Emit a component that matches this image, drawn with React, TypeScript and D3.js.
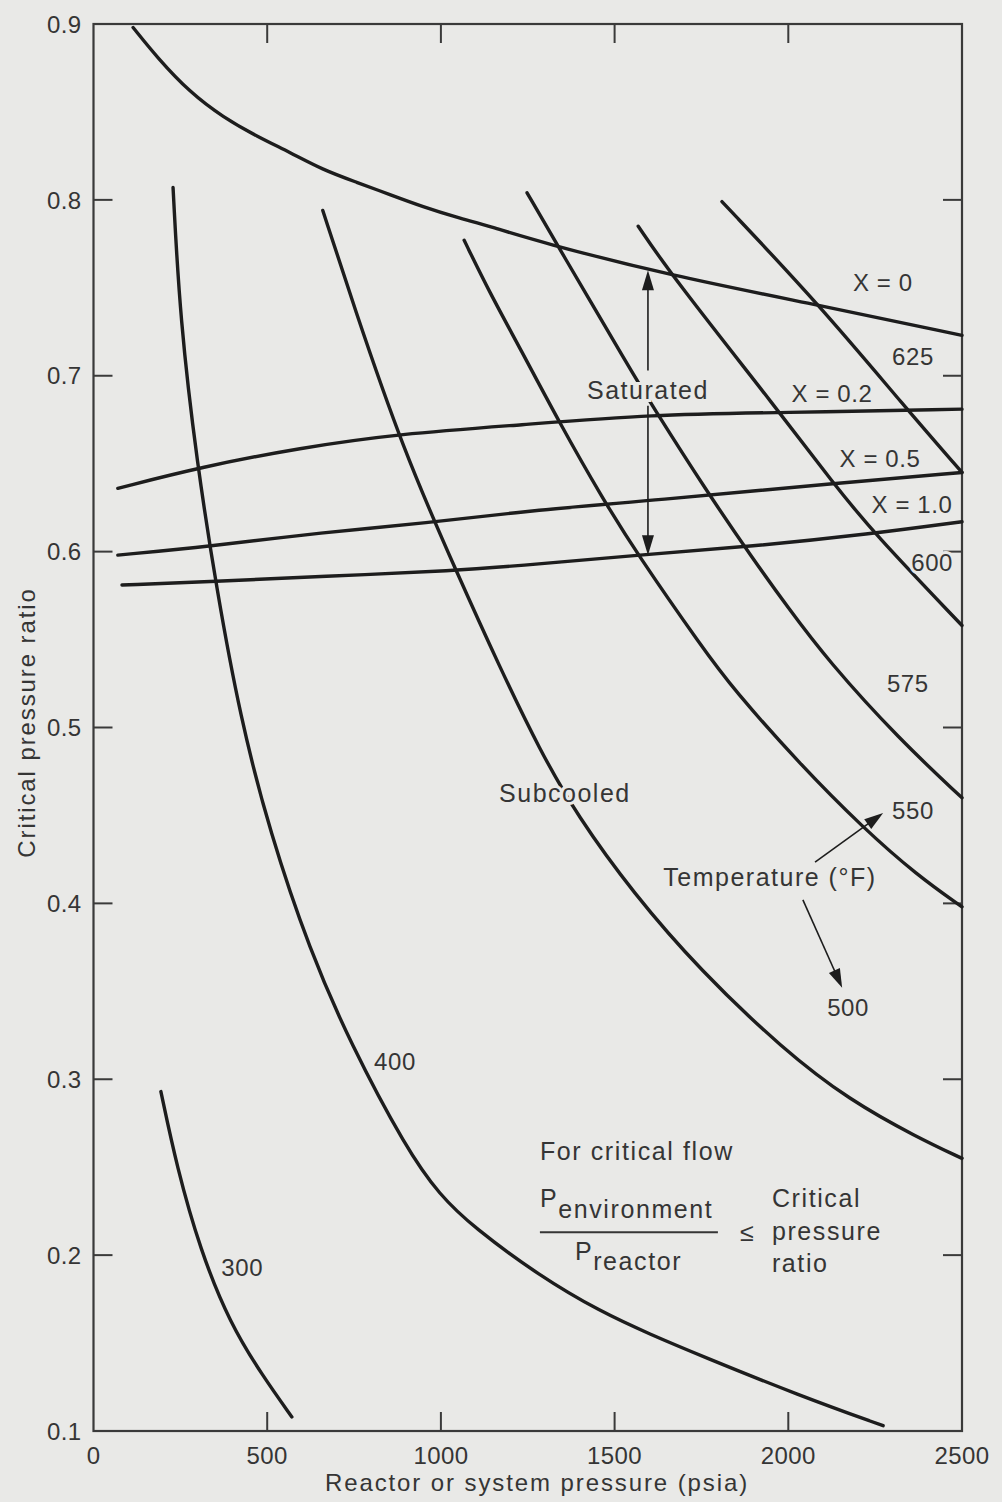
import React from "react";
import * as d3 from "d3";

// Axis ticks
const pressureTicks = [0, 500, 1000, 1500, 2000, 2500];
const ratioTicks = [0.1, 0.2, 0.3, 0.4, 0.5, 0.6, 0.7, 0.8, 0.9];

// Saturated lines of constant quality X: [pressure psia, critical pressure ratio]
const qualityX0: [number, number][] = [
  [114, 0.898], [183, 0.881], [278, 0.861], [373, 0.847], [471, 0.836], [566, 0.827],
  [661, 0.817], [758, 0.81], [853, 0.803], [949, 0.796], [1046, 0.79], [1141, 0.785],
  [1285, 0.776], [1659, 0.757], [2091, 0.74], [2500, 0.723],
];
const qualityX02: [number, number][] = [
  [70, 0.636], [307, 0.648], [594, 0.659], [882, 0.667], [1227, 0.672], [1610, 0.678],
  [1976, 0.679], [2500, 0.681],
];
const qualityX05: [number, number][] = [
  [70, 0.598], [335, 0.603], [661, 0.611], [949, 0.616], [1285, 0.624], [1610, 0.629],
  [2140, 0.639], [2500, 0.645],
];
const qualityX10: [number, number][] = [
  [82, 0.581], [344, 0.583], [661, 0.586], [1035, 0.589], [1285, 0.593], [1564, 0.598],
  [1898, 0.603], [2235, 0.61], [2500, 0.617],
];

// Subcooled lines of constant temperature (°F)
const temp300: [number, number][] = [
  [194, 0.293], [240, 0.25], [307, 0.203], [393, 0.161], [488, 0.131], [571, 0.108],
];
const temp400: [number, number][] = [
  [229, 0.807], [249, 0.732], [298, 0.65], [355, 0.578], [422, 0.506], [508, 0.44],
  [623, 0.373], [738, 0.321], [902, 0.26], [997, 0.234], [1093, 0.216], [1285, 0.188],
  [1458, 0.168], [1602, 0.155], [1746, 0.143], [2034, 0.12], [2273, 0.103],
];
const temp500: [number, number][] = [
  [660, 0.794], [747, 0.741], [891, 0.658], [1046, 0.588], [1170, 0.534], [1285, 0.487],
  [1392, 0.45], [1553, 0.406], [1746, 0.362], [1985, 0.317], [2177, 0.288], [2371, 0.267],
  [2500, 0.255],
];
const temp550: [number, number][] = [
  [1067, 0.777], [1141, 0.747], [1227, 0.716], [1342, 0.673], [1466, 0.63], [1564, 0.599],
  [1754, 0.545], [1841, 0.522], [2034, 0.479], [2215, 0.443], [2371, 0.416], [2500, 0.398],
];
const temp575: [number, number][] = [
  [1248, 0.804], [1342, 0.772], [1550, 0.702], [1602, 0.685], [1766, 0.634], [1898, 0.596],
  [1996, 0.569], [2114, 0.538], [2321, 0.493], [2500, 0.46],
];
const temp600: [number, number][] = [
  [1568, 0.785], [1668, 0.756], [1976, 0.679], [2129, 0.639], [2244, 0.611], [2500, 0.558],
];
const temp625: [number, number][] = [
  [1809, 0.799], [2091, 0.74], [2341, 0.681], [2500, 0.645],
];

const allCurves = [
  qualityX0, qualityX02, qualityX05, qualityX10,
  temp300, temp400, temp500, temp550, temp575, temp600, temp625,
];

// Curve labels, anchored at [pressure, ratio]
const curveLabels: { text: string; p: number; r: number }[] = [
  { text: "X = 0", p: 2272, r: 0.753 },
  { text: "625", p: 2359, r: 0.711 },
  { text: "X = 0.2", p: 2126, r: 0.69 },
  { text: "X = 0.5", p: 2264, r: 0.653 },
  { text: "X = 1.0", p: 2356, r: 0.627 },
  { text: "600", p: 2414, r: 0.594 },
  { text: "575", p: 2344, r: 0.525 },
  { text: "550", p: 2359, r: 0.453 },
  { text: "500", p: 2172, r: 0.341 },
  { text: "400", p: 868, r: 0.31 },
  { text: "300", p: 428, r: 0.193 },
];
const regionLabels: { text: string; p: number; r: number }[] = [
  { text: "Saturated", p: 1596, r: 0.692 },
  { text: "Subcooled", p: 1357, r: 0.463 },
  { text: "Temperature (°F)", p: 1947, r: 0.415 },
];

// Saturated-range double arrow (between X = 0 and X = 1.0)
const saturatedArrow = { p: 1596, top: 0.76, upperEnd: 0.703, lowerStart: 0.683, bottom: 0.598 };
// Temperature pointers: [from, to]
const tempPointers: [number, number][][] = [
  [[2077, 0.4235], [2273, 0.4514]],
  [[2042, 0.402], [2155, 0.352]],
];
// Note anchor
const noteAnchor = { p: 1285, r: 0.254 };

const W = 1002;
const H = 1502;
const plot = { left: 93.5, right: 962, top: 24, bottom: 1431 };
const BG = "#e9e9e7";
const INK = "#1d1d1d";
const TEXT = "#353535";
const FONT = "'Liberation Sans', Arial, Helvetica, sans-serif";

function arrowHead(x1: number, y1: number, x2: number, y2: number, len = 18, half = 6) {
  const a = Math.atan2(y2 - y1, x2 - x1);
  const bx = x2 - len * Math.cos(a);
  const by = y2 - len * Math.sin(a);
  const px = -Math.sin(a) * half;
  const py = Math.cos(a) * half;
  return `${x2},${y2} ${bx + px},${by + py} ${bx - px},${by - py}`;
}

export default function App() {
  const x = d3.scaleLinear().domain([0, 2500]).range([plot.left, plot.right]);
  const y = d3.scaleLinear().domain([0.1, 0.9]).range([plot.bottom, plot.top]);
  const line = d3
    .line<[number, number]>()
    .x((d) => x(d[0]))
    .y((d) => y(d[1]))
    .curve(d3.curveBasis);

  const tickLen = 19;
  const innerX = pressureTicks.filter((t) => t > 0 && t < 2500);
  const innerY = ratioTicks.filter((t) => t > 0.1 && t < 0.9);

  const sa = saturatedArrow;
  const sx = x(sa.p);
  const nx = x(noteAnchor.p);
  const ny = y(noteAnchor.r);

  const labelStyle = {
    fontFamily: FONT,
    fontSize: 25,
    letterSpacing: 1.5,
    fill: TEXT,
    stroke: BG,
    strokeWidth: 6,
    paintOrder: "stroke",
  } as React.CSSProperties;
  const numStyle = { ...labelStyle, fontSize: 24, letterSpacing: 0.6 } as React.CSSProperties;
  const noteText = { fontSize: 25, letterSpacing: 1.6 } as React.CSSProperties;

  return (
    <svg
      width={W}
      height={H}
      viewBox={`0 0 ${W} ${H}`}
      style={{ position: "absolute", left: 0, top: 0, display: "block" }}
    >
      <rect x={0} y={0} width={W} height={H} fill={BG} />

      {/* frame */}
      <rect
        x={plot.left}
        y={plot.top}
        width={plot.right - plot.left}
        height={plot.bottom - plot.top}
        fill="none"
        stroke="#3a3a3a"
        strokeWidth={2.2}
      />
      {/* inward ticks on all four sides */}
      {innerX.map((t) => (
        <g key={`xt${t}`} stroke="#3a3a3a" strokeWidth={2}>
          <line x1={x(t)} x2={x(t)} y1={plot.bottom} y2={plot.bottom - tickLen} />
          <line x1={x(t)} x2={x(t)} y1={plot.top} y2={plot.top + tickLen} />
        </g>
      ))}
      {innerY.map((t) => (
        <g key={`yt${t}`} stroke="#3a3a3a" strokeWidth={2}>
          <line x1={plot.left} x2={plot.left + tickLen} y1={y(t)} y2={y(t)} />
          <line x1={plot.right} x2={plot.right - tickLen} y1={y(t)} y2={y(t)} />
        </g>
      ))}

      {/* tick labels */}
      {pressureTicks.map((t) => (
        <text
          key={`xl${t}`}
          x={x(t)}
          y={plot.bottom + 33}
          textAnchor="middle"
          style={{ fontFamily: FONT, fontSize: 24, letterSpacing: 0.4, fill: TEXT }}
        >
          {t}
        </text>
      ))}
      {ratioTicks.map((t) => (
        <text
          key={`yl${t}`}
          x={plot.left - 12}
          y={y(t)}
          dy="0.36em"
          textAnchor="end"
          style={{ fontFamily: FONT, fontSize: 24, letterSpacing: 0.4, fill: TEXT }}
        >
          {t.toFixed(1)}
        </text>
      ))}

      {/* axis titles */}
      <text
        x={537}
        y={1491}
        textAnchor="middle"
        style={{ fontFamily: FONT, fontSize: 24, letterSpacing: 1.9, fill: TEXT }}
      >
        Reactor or system pressure (psia)
      </text>
      <text
        transform={`translate(35, ${(plot.top + plot.bottom) / 2 - 5}) rotate(-90)`}
        textAnchor="middle"
        style={{ fontFamily: FONT, fontSize: 24, letterSpacing: 1.9, fill: TEXT }}
      >
        Critical pressure ratio
      </text>

      {/* curves */}
      {allCurves.map((c, i) => (
        <path
          key={`c${i}`}
          d={line(c) || ""}
          fill="none"
          stroke={INK}
          strokeWidth={3.4}
          strokeLinecap="round"
        />
      ))}

      {/* saturated double arrow */}
      <g stroke={INK} strokeWidth={1.6} fill={INK}>
        <line x1={sx} x2={sx} y1={y(sa.top) + 14} y2={y(sa.upperEnd)} />
        <line x1={sx} x2={sx} y1={y(sa.lowerStart)} y2={y(sa.bottom) - 14} />
        <polygon points={arrowHead(sx, y(sa.upperEnd), sx, y(sa.top), 20, 6)} stroke="none" />
        <polygon points={arrowHead(sx, y(sa.lowerStart), sx, y(sa.bottom), 20, 6)} stroke="none" />
      </g>

      {/* temperature pointers */}
      {tempPointers.map(([a, b], i) => {
        const x1 = x(a[0]);
        const y1 = y(a[1]);
        const x2 = x(b[0]);
        const y2 = y(b[1]);
        const ang = Math.atan2(y2 - y1, x2 - x1);
        return (
          <g key={`tp${i}`}>
            <line
              x1={x1}
              y1={y1}
              x2={x2 - 14 * Math.cos(ang)}
              y2={y2 - 14 * Math.sin(ang)}
              stroke={INK}
              strokeWidth={1.6}
            />
            <polygon points={arrowHead(x1, y1, x2, y2, 19, 6)} fill={INK} />
          </g>
        );
      })}

      {/* labels */}
      {regionLabels.map((l) => (
        <text
          key={l.text}
          x={x(l.p)}
          y={y(l.r)}
          dy="0.36em"
          textAnchor="middle"
          style={labelStyle}
        >
          {l.text}
        </text>
      ))}
      {curveLabels.map((l) => (
        <text
          key={l.text}
          x={x(l.p)}
          y={y(l.r)}
          dy="0.36em"
          textAnchor="middle"
          style={numStyle}
        >
          {l.text}
        </text>
      ))}

      {/* critical flow note */}
      <g transform={`translate(${nx}, ${ny})`} style={{ fontFamily: FONT, fill: TEXT }}>
        <text x={0} y={0} style={noteText}>
          For critical flow
        </text>
        <text x={0} y={47} style={noteText}>
          P<tspan dy={11}>environment</tspan>
        </text>
        <line x1={0} x2={178} y1={72} y2={72} stroke={TEXT} strokeWidth={2} />
        <text x={35} y={100} style={noteText}>
          P<tspan dy={10}>reactor</tspan>
        </text>
        <text x={207} y={81} textAnchor="middle" style={{ fontSize: 25 }}>
          ≤
        </text>
        <text x={232} y={47} style={noteText}>
          Critical
        </text>
        <text x={232} y={80} style={noteText}>
          pressure
        </text>
        <text x={232} y={112} style={noteText}>
          ratio
        </text>
      </g>
    </svg>
  );
}
